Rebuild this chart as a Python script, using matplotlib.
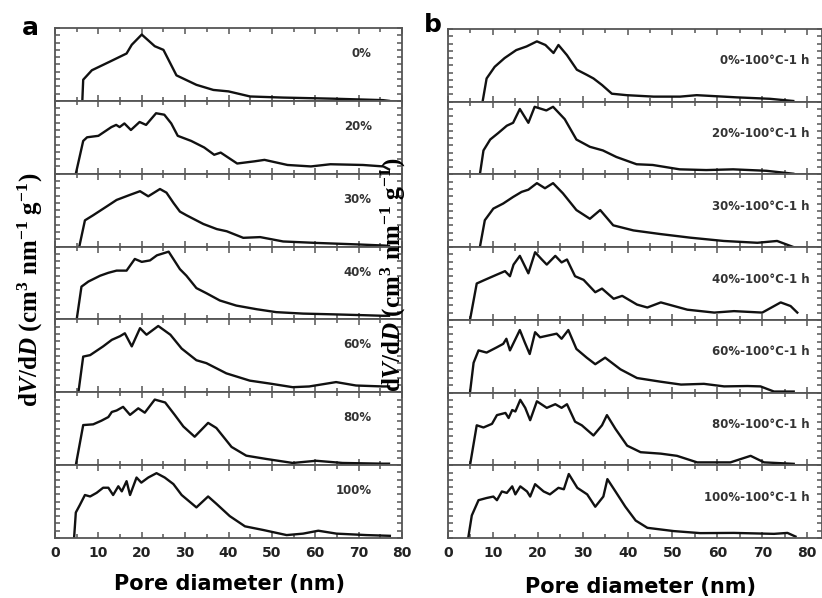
import numpy as np
import matplotlib
matplotlib.use("Agg")
import matplotlib.pyplot as plt
from matplotlib.ticker import MultipleLocator

plt.rcParams['mathtext.fontset'] = 'custom'
plt.rcParams['mathtext.rm'] = 'Liberation Serif:bold'
plt.rcParams['mathtext.it'] = 'Liberation Serif:italic:bold'

# panel a labels
labels_a = ["0%", "20%", "30%", "40%", "60%", "80%", "100%"]
# panel b labels
labels_b = ["0%-100°C-1 h", "20%-100°C-1 h", "30%-100°C-1 h", "40%-100°C-1 h",
            "60%-100°C-1 h", "80%-100°C-1 h", "100%-100°C-1 h"]

# ---- panel a curves (dV/dD, relative units) ----
a0_x = [6.3, 6.5, 8.5, 12.7, 16.5, 17.7, 20, 23, 25, 28, 32.6, 36.5, 40, 45, 52.6, 64, 75.6, 77]
a0_y = [0, 0.29, 0.42, 0.54, 0.65, 0.77, 0.91, 0.75, 0.7, 0.35, 0.22, 0.15, 0.13, 0.06, 0.045, 0.03, 0.01, 0.0]

a20_x = [4.8, 6.5, 7.4, 10, 13, 14.1, 14.9, 16, 17.5, 19.5, 21, 23.3, 25.2, 26.8, 28.3, 31.4, 34.4,
         36.7, 38.2, 42, 46, 48.3, 53.6, 59, 63.5, 71, 75.7, 77]
a20_y = [0, 0.45, 0.5, 0.52, 0.64, 0.67, 0.64, 0.69, 0.6, 0.71, 0.67, 0.83, 0.81, 0.69, 0.52, 0.45, 0.36,
         0.26, 0.29, 0.14, 0.17, 0.19, 0.12, 0.1, 0.13, 0.12, 0.1, 0.06]

a30_x = [5.6, 6.9, 8.8, 11.9, 14.2, 17.3, 19.6, 21.5, 24.2, 25.7, 27.3, 28.8, 30.3, 34.2, 37.3, 39.6,
         43.4, 47.3, 52.6, 60.3, 69.5, 75.6, 77]
a30_y = [0, 0.36, 0.43, 0.55, 0.64, 0.71, 0.76, 0.69, 0.79, 0.74, 0.6, 0.48, 0.43, 0.31, 0.24, 0.21,
         0.12, 0.13, 0.07, 0.05, 0.03, 0.015, 0.01]

a40_x = [5.0, 6.1, 7.7, 10.4, 12.3, 14.2, 16.5, 18.4, 20, 21.9, 23.5, 26.2, 28.8, 30.3, 32.6, 34.9,
         38, 41.8, 46.5, 51, 57.2, 64, 71.8, 75.6, 77]
a40_y = [0, 0.45, 0.52, 0.6, 0.64, 0.67, 0.67, 0.83, 0.79, 0.81, 0.88, 0.93, 0.69, 0.6, 0.43, 0.36,
         0.26, 0.19, 0.14, 0.1, 0.08, 0.07, 0.057, 0.05, 0.05]

a60_x = [5.4, 6.5, 8.1, 11.1, 13.1, 15, 16.1, 17.7, 19.6, 21.1, 23.8, 26.6, 29.2, 32.6, 34.9, 39.5,
         44.9, 49.5, 54.8, 58.6, 64.8, 69.4, 75.6, 77]
a60_y = [0, 0.49, 0.51, 0.63, 0.72, 0.77, 0.81, 0.63, 0.88, 0.79, 0.91, 0.79, 0.6, 0.44, 0.4, 0.26,
         0.16, 0.12, 0.07, 0.08, 0.14, 0.093, 0.08, 0.08]

a80_x = [4.8, 6.5, 8.8, 10.7, 12.3, 13.1, 14.2, 15.7, 17.3, 19.2, 20.7, 23, 25.4, 27.6, 29.6, 32.2,
         35.3, 37.2, 40.7, 44.1, 48.7, 54.8, 60.2, 66.3, 75.6, 77]
a80_y = [0, 0.55, 0.56, 0.61, 0.66, 0.73, 0.75, 0.8, 0.69, 0.78, 0.72, 0.9, 0.86, 0.69, 0.53, 0.39,
         0.58, 0.51, 0.25, 0.13, 0.085, 0.03, 0.06, 0.03, 0.02, 0.02]

a100_x = [4.4, 4.8, 5.7, 6.9, 8.1, 9.6, 11.1, 12.3, 13.4, 14.6, 15.4, 16.5, 17.3, 18.8, 19.9, 21.5,
          23.4, 25.3, 27.3, 29.2, 32.6, 35.3, 37.2, 40.3, 43.8, 48, 53.4, 57.2, 60.7, 64.9, 71.8, 77.2]
a100_y = [0, 0.35, 0.45, 0.59, 0.57, 0.62, 0.69, 0.69, 0.59, 0.71, 0.64, 0.78, 0.59, 0.83, 0.76, 0.83,
          0.89, 0.83, 0.74, 0.59, 0.42, 0.57, 0.47, 0.3, 0.16, 0.11, 0.04, 0.06, 0.1, 0.06, 0.04, 0.03]

# ---- panel b curves ----
b0_x = [7.7, 8.6, 10.4, 12.6, 15.2, 17.5, 19.8, 21.7, 23.5, 24.6, 26.5, 28.7, 30.9, 32.4, 34.3, 36.5,
        39.8, 45.8, 51.7, 55.4, 64.3, 71.7, 76.9]
b0_y = [0, 0.32, 0.48, 0.6, 0.71, 0.76, 0.83, 0.78, 0.67, 0.78, 0.64, 0.44, 0.37, 0.32, 0.23, 0.11,
        0.09, 0.07, 0.07, 0.09, 0.06, 0.04, 0.01]

b20_x = [7.1, 7.9, 9.4, 11.2, 13.1, 14.5, 16, 17.9, 19.3, 21.9, 23.4, 26, 28.6, 31.6, 34.5, 37.5,
         42, 45.6, 51.6, 57.5, 63.5, 70.9, 76.9]
b20_y = [0, 0.33, 0.48, 0.57, 0.67, 0.71, 0.9, 0.71, 0.93, 0.88, 0.93, 0.76, 0.48, 0.38, 0.33, 0.24,
         0.14, 0.13, 0.07, 0.06, 0.07, 0.05, 0.01]

b30_x = [7.1, 8.2, 10.1, 12.3, 14.5, 16.4, 17.9, 19.8, 21.6, 23.4, 25.6, 28.6, 31.6, 33.9, 36.8,
         41.3, 47.3, 54, 61.4, 68.9, 73.3, 77]
b30_y = [0, 0.37, 0.53, 0.6, 0.69, 0.76, 0.79, 0.88, 0.81, 0.88, 0.74, 0.51, 0.39, 0.51, 0.3,
         0.23, 0.18, 0.13, 0.085, 0.06, 0.085, 0.0]

b40_x = [4.9, 6.4, 8.2, 10.8, 12.7, 13.8, 14.6, 16, 17.9, 19.4, 20.9, 22, 23.9, 25.3, 26.5, 28.3,
         30.2, 32.8, 34.3, 36.9, 38.8, 42.1, 44.4, 47.4, 53.3, 59.3, 63.7, 70, 74.1, 76.3, 77.8]
b40_y = [0, 0.5, 0.55, 0.62, 0.67, 0.6, 0.76, 0.88, 0.64, 0.93, 0.83, 0.76, 0.88, 0.79, 0.83, 0.6,
         0.55, 0.38, 0.43, 0.29, 0.33, 0.21, 0.17, 0.24, 0.14, 0.1, 0.12, 0.1, 0.24, 0.19, 0.1]

b60_x = [4.9, 5.7, 6.8, 8.6, 10.8, 12.3, 13.0, 13.8, 16, 17.1, 18.2, 19.4, 20.5, 22.7, 24.2, 25.3,
         26.8, 28.6, 30.9, 32.8, 35, 38.4, 42.1, 47.3, 51.9, 57, 61.5, 66.7, 69.6, 72.6, 77]
b60_y = [0, 0.41, 0.58, 0.55, 0.62, 0.67, 0.74, 0.58, 0.86, 0.69, 0.53, 0.83, 0.76, 0.79, 0.81, 0.74,
         0.86, 0.6, 0.48, 0.39, 0.48, 0.32, 0.2, 0.15, 0.11, 0.12, 0.085, 0.09, 0.085, 0.014, 0.014]

b80_x = [4.9, 6.4, 7.9, 9.8, 10.9, 12.8, 13.5, 14.3, 15, 16.1, 17.2, 18.3, 19.8, 22, 23.9, 25.3,
         26.5, 28.3, 29.8, 32.4, 34.3, 35.4, 37.3, 39.9, 42.9, 47.4, 51, 55.5, 62.9, 67.4, 70.4, 77]
b80_y = [0, 0.55, 0.52, 0.57, 0.69, 0.72, 0.65, 0.76, 0.74, 0.9, 0.79, 0.62, 0.88, 0.79, 0.84, 0.79,
         0.84, 0.6, 0.55, 0.41, 0.55, 0.69, 0.5, 0.27, 0.18, 0.16, 0.13, 0.04, 0.04, 0.13, 0.04, 0.02]

b100_x = [4.5, 5.3, 6.8, 8.6, 10.1, 10.9, 12, 13.1, 14.3, 15, 16.1, 17.6, 18.3, 19.4, 21.3, 22.7,
          24.6, 25.8, 26.9, 28.8, 31, 32.8, 34.6, 35.5, 37.3, 39.5, 41.8, 44.4, 50.3, 56.2, 63.7,
          72.6, 75.6, 77.4]
b100_y = [0, 0.31, 0.52, 0.55, 0.57, 0.52, 0.64, 0.62, 0.71, 0.6, 0.71, 0.64, 0.57, 0.74, 0.64, 0.6,
          0.69, 0.67, 0.88, 0.69, 0.6, 0.43, 0.57, 0.81, 0.64, 0.43, 0.24, 0.14, 0.095, 0.067, 0.07,
          0.057, 0.07, 0.02]

curves_a = [(a0_x, a0_y), (a20_x, a20_y), (a30_x, a30_y), (a40_x, a40_y),
            (a60_x, a60_y), (a80_x, a80_y), (a100_x, a100_y)]
curves_b = [(b0_x, b0_y), (b20_x, b20_y), (b30_x, b30_y), (b40_x, b40_y),
            (b60_x, b60_y), (b80_x, b80_y), (b100_x, b100_y)]

W, H = 822, 598
fig = plt.figure(figsize=(W / 100, H / 100), dpi=100)

spine_col = '#555555'


def make_panel(left_px, right_px, top_px, bottom_px, xmax, curves, labels, lab_x, lab_y):
    n = len(curves)
    row_h = (bottom_px - top_px) / n
    axes = []
    for i, ((xs, ys), lab) in enumerate(zip(curves, labels)):
        t = top_px + i * row_h
        ax = fig.add_axes([left_px / W, 1 - (t + row_h) / H,
                           (right_px - left_px) / W, row_h / H])
        ax.plot(xs, ys, color='#111111', lw=1.7, solid_joinstyle='round')
        ax.set_xlim(0, xmax)
        ax.set_ylim(0, 1.0)
        ax.xaxis.set_major_locator(MultipleLocator(10))
        ax.xaxis.set_minor_locator(MultipleLocator(5))
        ax.yaxis.set_major_locator(MultipleLocator(0.1))
        ax.set_yticklabels([])
        ax.tick_params(which='both', direction='in', top=True, right=True,
                       color=spine_col, width=1.1)
        ax.tick_params(axis='x', which='major', length=4)
        ax.tick_params(axis='x', which='minor', length=3)
        ax.tick_params(axis='y', length=3.5)
        for s in ax.spines.values():
            s.set_color(spine_col)
            s.set_linewidth(1.3)
        ax.text(lab_x, lab_y, lab, ha='right', va='center', fontsize=8.5,
                fontweight='bold', color='#333333', transform=ax.transData)
        if i < n - 1:
            ax.set_xticklabels([])
        else:
            ax.set_xticks(np.arange(0, 81, 10))
            ax.set_xticklabels([str(v) for v in range(0, 81, 10)],
                               fontsize=10, fontweight='bold', color='#222222')
            ax.tick_params(axis='x', pad=6)
        axes.append(ax)
    return axes


make_panel(55, 402, 28, 538, 80, curves_a, labels_a, 73, 0.65)
make_panel(448, 822, 29, 538, 83.3, curves_b, labels_b, 80.5, 0.56)

# panel letters
fig.text(30 / W, 1 - 28 / H, "a", fontsize=18, fontweight='bold', ha='center', va='center')
fig.text(433 / W, 1 - 25 / H, "b", fontsize=18, fontweight='bold', ha='center', va='center')

# x labels
fig.text(229 / W, 1 - 584 / H, "Pore diameter (nm)", fontsize=15, fontweight='bold',
         ha='center', va='center')
fig.text(640 / W, 1 - 587 / H, "Pore diameter (nm)", fontsize=15, fontweight='bold',
         ha='center', va='center')

# y labels
ylab = r'$\mathrm{d}\mathit{V}\mathrm{/d}\mathit{D}\ \mathrm{(cm^{3}\ nm^{-1}\ g^{-1})}$'
fig.text(30 / W, 1 - 290 / H, ylab, fontsize=18, rotation=90, ha='center', va='center')
fig.text(393 / W, 1 - 275 / H, ylab, fontsize=18, rotation=90, ha='center', va='center',
         zorder=10)

fig.savefig("out.png", dpi=100)
